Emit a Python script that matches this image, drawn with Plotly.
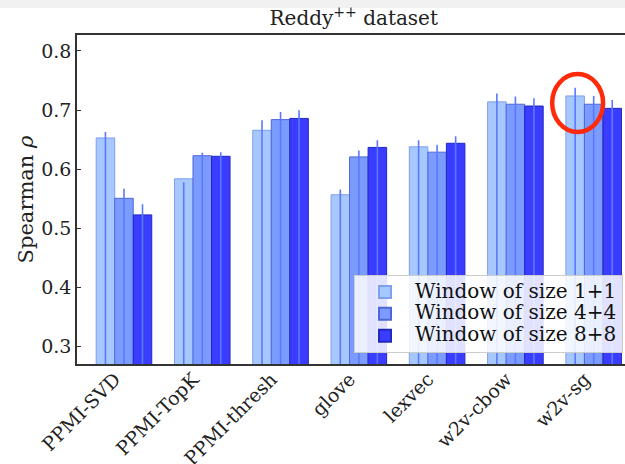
import plotly.graph_objects as go

categories = ["PPMI-SVD", "PPMI-TopK", "PPMI-thresh", "glove", "lexvec", "w2v-cbow", "w2v-sg"]
series_names = ["Window of size 1+1", "Window of size 4+4", "Window of size 8+8"]
vals_1 = [0.653, 0.584, 0.666, 0.557, 0.638, 0.714, 0.724]
vals_4 = [0.551, 0.623, 0.684, 0.621, 0.629, 0.710, 0.710]
vals_8 = [0.523, 0.622, 0.686, 0.637, 0.644, 0.707, 0.703]
err_top_1 = [0.663, 0.578, 0.683, 0.566, 0.649, 0.728, 0.738]
err_top_4 = [0.567, 0.628, 0.697, 0.632, 0.641, 0.723, 0.724]
err_top_8 = [0.541, 0.629, 0.700, 0.649, 0.656, 0.720, 0.717]

fills = ["#a7c7ff", "#7b9bff", "#3a3cff"]
edges = ["#7f9ff0", "#4f66d8", "#2228c0"]
err_col = "#5b79ff"
font = "DejaVu Serif"

fig = go.Figure()
for name, v, et, fc, ec in zip(series_names, [vals_1, vals_4, vals_8],
                               [err_top_1, err_top_4, err_top_8], fills, edges):
    fig.add_trace(go.Bar(
        x=categories, y=v,
        name='<span style="font-size:20px">' + name + '</span>',
        marker=dict(color=fc, line=dict(color=ec, width=1)),
        error_y=dict(type="data", symmetric=False,
                     array=[t - y for t, y in zip(et, v)],
                     arrayminus=[y for y in v],
                     color=err_col, thickness=1.6, width=0),
    ))

H = 329.0
fig.update_layout(
    width=625, height=464,
    margin=dict(l=77, r=0, t=35, b=100, autoexpand=False),
    paper_bgcolor="white", plot_bgcolor="white",
    barmode="group", bargap=0.29, bargroupgap=0,
    font=dict(family=font, size=17, color="#222222"),
    title=dict(text="Reddy<sup>++</sup> dataset", x=0.566, xanchor="center",
               y=1 - 18 / 464, yanchor="middle", font=dict(size=20)),
    xaxis=dict(range=[-0.6, 6.4], showline=True, linecolor="#333333", linewidth=1.5,
               mirror=True, ticks="", tickangle=-45, tickfont=dict(size=19),
               ticklabelshift=-9, ticklabelstandoff=-5,
               showgrid=False, automargin=False),
    yaxis=dict(range=[0.271, 0.827], showline=True, linecolor="#333333", linewidth=1.5,
               ticks="inside", ticklen=4, tickcolor="#333333",
               tickvals=[0.3, 0.4, 0.5, 0.6, 0.7, 0.8],
               ticktext=["0.3", "0.4", "0.5", "0.6", "0.7", "0.8"],
               tickfont=dict(size=19), showgrid=False, zeroline=False, automargin=False,
               title=dict(text="Spearman <i>ρ</i>", font=dict(size=21), standoff=2)),
    legend=dict(x=(354 - 77) / 548, y=(364 - 275) / H, xanchor="left", yanchor="top",
                bgcolor="rgba(255,255,255,0.85)", bordercolor="#cccccc", borderwidth=1,
                font=dict(size=14.5, color="#111111"), tracegroupgap=0,
                itemsizing="constant", itemwidth=50),
    showlegend=True,
)

# grey band at top of slide screenshot
fig.add_shape(type="rect", xref="paper", yref="paper",
              x0=-77 / 548, x1=1.0, y0=1 + 27 / H, y1=1 + 35 / H,
              line=dict(width=0), fillcolor="#f1f1f1", layer="below")
# red highlight circle around w2v-sg
fig.add_shape(type="circle", xref="x", yref="y",
              x0=5.47, x1=6.12, y0=0.663, y1=0.761,
              line=dict(color="#ff2a0a", width=4.5))

fig.write_html("out.html")
